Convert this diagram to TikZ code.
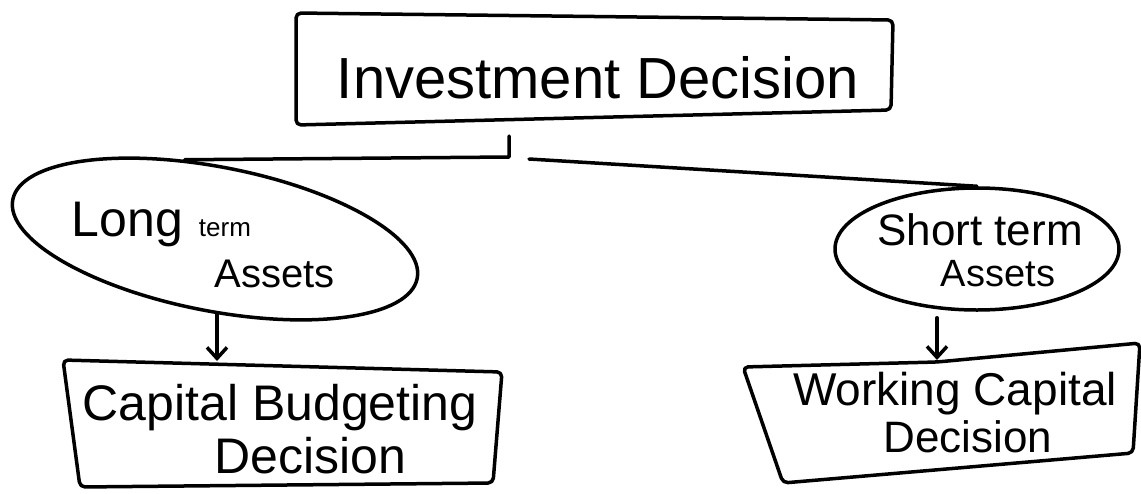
\documentclass[tikz,border=0pt]{standalone}
\usepackage{fontspec}
\setmainfont{Liberation Sans}
\usetikzlibrary{shapes.geometric,arrows.meta}
\newcommand{\fs}[1]{\fontsize{#1}{#1}\selectfont}
\begin{document}
\begin{tikzpicture}[x=1pt,y=-1pt,
  line width=3.5pt, line cap=round, line join=round,
  box/.style={draw, rounded corners=5pt},
  oval/.style={draw, ellipse, inner sep=0pt},
  txt/.style={inner sep=0pt, anchor=base},
  arr/.style={-{Straight Barb[length=11pt,width=20pt]}}]
\useasboundingbox (0,0) rectangle (1141,493);
\fill[white] (0,0) rectangle (1141,493);

% top box
\draw[box] (296,13) -- (893,20) -- (891,110) -- (296,125) -- cycle;
\node[txt] (inv) at (598,98) {\fs{58}Investment Decision};

% ellipses
\node[oval, minimum width=412pt, minimum height=144pt, rotate=-11] (lt) at (215,239) {};
\node[txt, anchor=base west] (ltA) at (70,236) {\fs{50}Long\hspace{16pt}\fs{26}term};
\node[txt, anchor=base west] (ltB) at (213,287) {\fs{40}Assets};

\node[oval, minimum width=284pt, minimum height=122pt] (rt) at (977,249) {};
\node[txt] (rtA) at (980,245) {\fs{44}Short term};
\node[txt] (rtB) at (998,286) {\fs{38}Assets};

% connectors from top
\coordinate (tick) at (509,136);
\coordinate (fork) at (509,157);
\coordinate (fork2) at (529,159);
\draw (tick) -- (fork) -- (lt.122);
\draw (fork2) -- (rt.north);

% bottom boxes
\draw[box] (63,360) -- (502,372) -- (493,483) -- (80,487) -- cycle;
\node[txt] (cbA) at (280,420) {\fs{50}Capital Budgeting};
\node[txt] (cbB) at (310,473) {\fs{50}Decision};

\draw[box] (743,367) -- (937,362) -- (1140,343) -- (1133,453) -- (783,483) -- cycle;
\node[txt] (wcA) at (955,405) {\fs{46}Working Capital};
\node[txt] (wcB) at (968,452) {\fs{44}Decision};

% arrows
\coordinate (cbin) at (217,361);
\coordinate (wcin) at (937,360);
\draw[arr] (cbin |- lt.-78) -- (cbin);
\draw[arr] ([yshift=-6pt]wcin |- rt.south) -- (wcin);
\end{tikzpicture}
\end{document}
